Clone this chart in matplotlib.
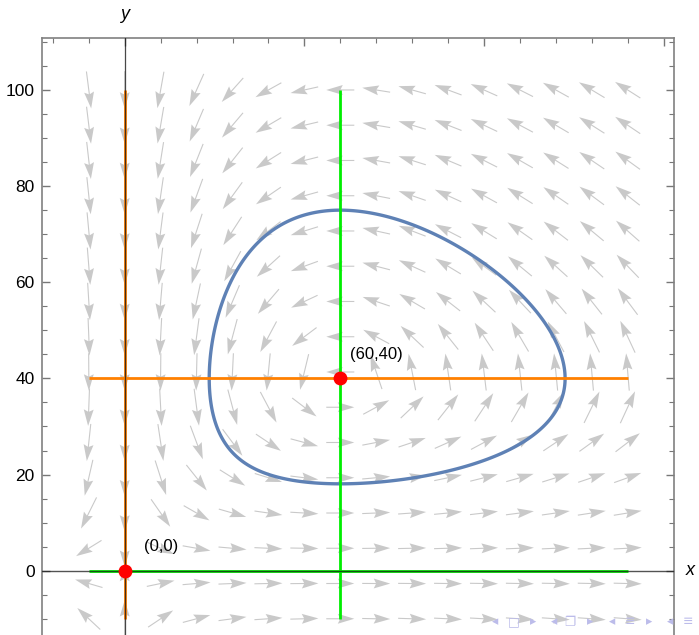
import numpy as np
import matplotlib
matplotlib.use("Agg")
from matplotlib import pyplot as plt
from matplotlib.ticker import MultipleLocator

plt.rcParams['font.family'] = ['Liberation Sans', 'DejaVu Sans']

# predator-prey model: x' = x (a - b y),  y' = y (-c + d x)
a, b, c, d = 0.4, 0.01, 0.3, 0.005
orbit_start = (60, 75)          # the orbit passes through this point
equilibria = [(0, 0), (60, 40)]
eq_labels = ['(0,0)', '(60,40)']

# nullclines, each as (x range, y range)
x_nullclines = [((0, 0), (-10, 100)), ((-10, 140), (40, 40))]   # x' = 0
y_nullclines = [((-10, 140), (0, 0)), ((60, 60), (-10, 100))]   # y' = 0

field_x = np.linspace(-10, 140, 16)
field_y = np.linspace(-10, 100, 16)
arrow_len = 7.8

fig = plt.figure(figsize=(6.99, 6.35), dpi=100)
ax = fig.add_axes([0.0597, -0.0085, 0.9046, 0.9482])
ax.set_xlim(-23.1, 152.9)
ax.set_ylim(-14.5, 110.75)

# direction field, arrows of equal length
X, Y = np.meshgrid(field_x, field_y)
U = X * (a - b * Y)
V = Y * (-c + d * X)
M = np.hypot(U, V)
M[M == 0] = 1
ax.quiver(X, Y, arrow_len * U / M, arrow_len * V / M, angles='xy', scale_units='xy',
          scale=1, pivot='middle', color='#c9c9c9', units='dots', width=1.1,
          headwidth=9, headlength=15, headaxislength=13, zorder=1)

# closed orbit through orbit_start (level curve of the conserved quantity)
gx, gy = np.meshgrid(np.linspace(1, 150, 600), np.linspace(1, 110, 600))
H = d * gx - c * np.log(gx) + b * gy - a * np.log(gy)
x0, y0 = orbit_start
h0 = d * x0 - c * np.log(x0) + b * y0 - a * np.log(y0)
ax.contour(gx, gy, H, levels=[h0], colors='#5e81b5', linewidths=2.4,
           linestyles='solid', zorder=2)

for xr, yr in x_nullclines:
    ax.plot(xr, yr, color='#ff8000', lw=2.0, zorder=3, solid_capstyle='butt')
for xr, yr in y_nullclines:
    ax.plot(xr, yr, color='#00ee00', lw=2.0, zorder=3, solid_capstyle='butt')

# axes through the origin
ax.axhline(0, color='#1a1a1a', lw=1.0, alpha=0.75, zorder=4)
ax.axvline(0, color='#1a1a1a', lw=0.9, alpha=0.8, zorder=4)

for (px, py), lab in zip(equilibria, eq_labels):
    ax.plot(px, py, 'o', color='#ff0000', ms=10, mec='none', zorder=5)
    ax.text(px + 10, py + 5, lab, fontsize=12, ha='center', va='center', zorder=6)

ax.text(0, 115.8, 'y', fontsize=13, style='italic', ha='center', va='center', clip_on=False)
ax.text(157.5, 0, 'x', fontsize=13, style='italic', ha='center', va='center', clip_on=False)

# frame and ticks
ax.xaxis.set_major_locator(MultipleLocator(50))
ax.xaxis.set_minor_locator(MultipleLocator(10))
ax.yaxis.set_major_locator(MultipleLocator(20))
ax.yaxis.set_minor_locator(MultipleLocator(5))
ax.tick_params(which='both', direction='in', top=True, bottom=False, left=True, right=True,
               labelbottom=False, labeltop=False, labelleft=True, labelright=False,
               color='#777777', labelsize=12.5, pad=5)
ax.tick_params(which='major', length=6, width=1)
ax.tick_params(which='minor', length=3.5, width=0.8)
for s in ax.spines.values():
    s.set_color('#808080')
    s.set_linewidth(1.2)

# beamer navigation symbols
nav = [(495, '◂'), (514, '□'), (533, '▸'), (554, '◂'), (570, '❐'), (590, '▸'),
       (612, '◂'), (630, '≡'), (649, '▸'), (670, '◂'), (688, '≡')]
for px, sym in nav:
    fig.text(px / 699, 1 - 622 / 635, sym, fontsize=9, color='#bcbcea',
             ha='center', va='center', family='DejaVu Sans')

fig.savefig('out.png', dpi=100)
